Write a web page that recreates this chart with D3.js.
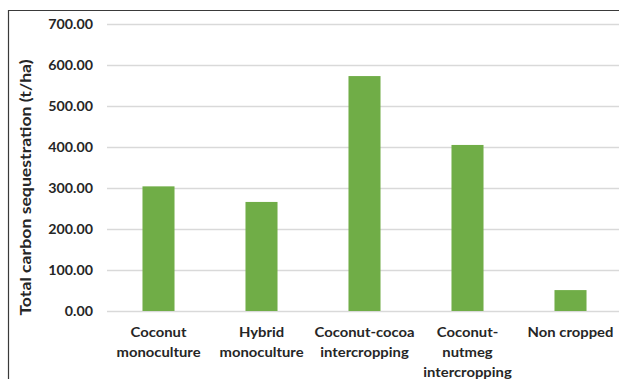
<!DOCTYPE html>
<html>
<head>
<meta charset="utf-8">
<script src="https://cdn.jsdelivr.net/npm/d3@7"></script>
<style>
  html, body { margin: 0; padding: 0; background: #fff; }
  svg { display: block; }
  text { font-family: Lato, "Open Sans", sans-serif; font-weight: bold; fill: #262626; }
</style>
</head>
<body>
<script>
// Total carbon sequestration by land-use system
const categories = [
  ["Coconut", "monoculture"],
  ["Hybrid", "monoculture"],
  ["Coconut-cocoa", "intercropping"],
  ["Coconut-", "nutmeg", "intercropping"],
  ["Non cropped"]
];
const values = [304, 266, 573, 405, 51];
const yTicks = [0, 100, 200, 300, 400, 500, 600, 700];
const yTitle = "Total carbon sequestration (t/ha)";

const W = 619, H = 379;
const plot = { left: 107, right: 622, top: 24, bottom: 311 };

const svg = d3.select("body").append("svg")
  .attr("width", W).attr("height", H);

// frame
svg.append("path")
  .attr("d", `M8.5,${H} V10.5 H${W}`)
  .attr("fill", "none").attr("stroke", "#3a3a3a").attr("stroke-width", 1.2);

const x = d3.scaleBand()
  .domain(categories.map((c, i) => i))
  .range([plot.left, plot.right])
  .paddingInner(0.689)
  .paddingOuter(0.3445);

const y = d3.scaleLinear().domain([0, 700]).range([plot.bottom, plot.top]);

// gridlines + tick labels
const yAxis = d3.axisLeft(y)
  .tickValues(yTicks)
  .tickSize(-(plot.right - plot.left))
  .tickPadding(14)
  .tickFormat(d3.format(".2f"));

const gy = svg.append("g")
  .attr("transform", `translate(${plot.left},0)`)
  .call(yAxis);
gy.select(".domain").remove();
gy.selectAll(".tick line").attr("stroke", "#d9d9d9").attr("stroke-width", 1.3);
gy.selectAll(".tick text")
  .attr("font-size", 12.5).attr("fill", "#262626")
  .attr("x", 0)
  .attr("transform", "translate(-14,0) scale(1.14,1)")
  .style("font-family", "Lato, sans-serif").style("font-weight", "bold");

// bars
svg.append("g").selectAll("rect")
  .data(values)
  .join("rect")
  .attr("x", (d, i) => x(i))
  .attr("width", x.bandwidth())
  .attr("y", d => y(d))
  .attr("height", d => y(0) - y(d))
  .attr("fill", "#70ad47");

// category labels
const gx = svg.append("g");
categories.forEach((lines, i) => {
  const t = gx.append("g")
    .attr("transform", `translate(${x(i) + x.bandwidth() / 2},337) scale(1.06,1)`)
    .append("text")
    .attr("text-anchor", "middle")
    .attr("font-size", 14);
  lines.forEach((ln, j) => {
    t.append("tspan")
      .attr("x", 0)
      .attr("y", j * 20)
      .text(ln);
  });
});

// y-axis title
svg.append("text")
  .attr("transform", `translate(31,${(plot.top + plot.bottom) / 2 + 20}) rotate(-90) scale(1.18,1)`)
  .attr("text-anchor", "middle")
  .attr("font-size", 15)
  .text(yTitle);
</script>
</body>
</html>
